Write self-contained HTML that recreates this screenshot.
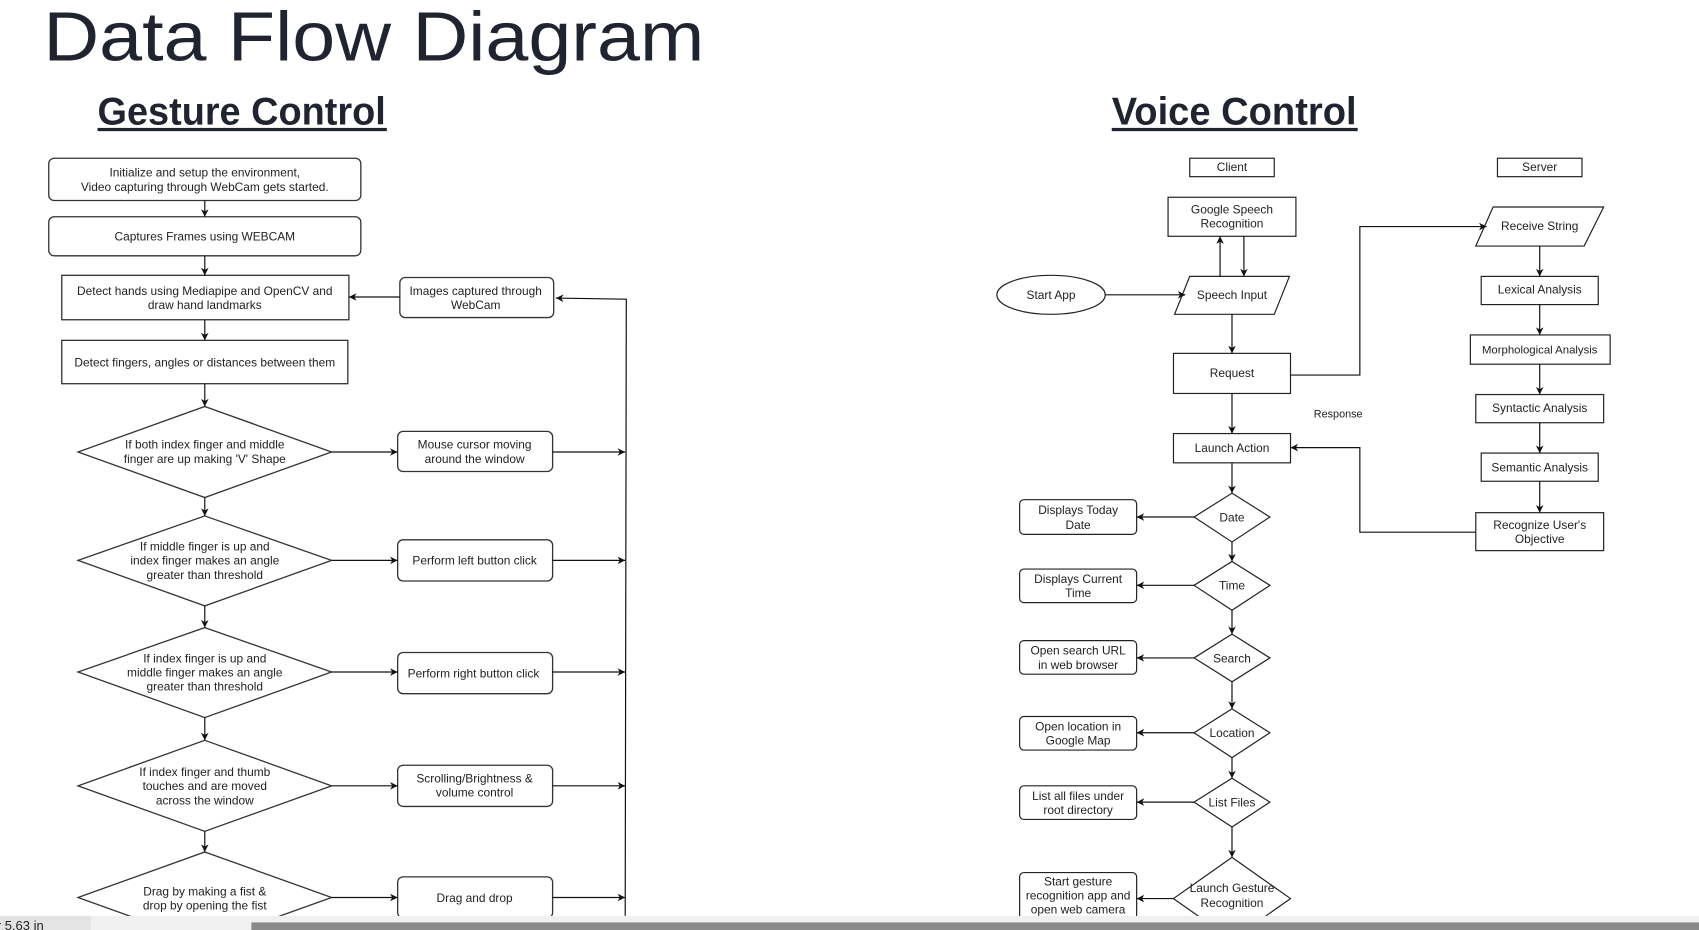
<!DOCTYPE html>
<html><head><meta charset="utf-8"><style>
html,body{margin:0;padding:0;background:#fff;overflow:hidden}
svg{display:block}
text{font-family:"Liberation Sans",Arial,sans-serif;fill:#222}
</style></head><body>
<svg width="1699" height="930" viewBox="0 0 1568 858" preserveAspectRatio="none" xmlns="http://www.w3.org/2000/svg">
<defs><marker id="a" markerWidth="8" markerHeight="8" refX="7" refY="4" orient="auto" markerUnits="userSpaceOnUse"><path d="M0,0.5 L7,4 L0,7.5 L2,4 z" fill="#111"/></marker></defs>
<rect width="1568" height="858" fill="#fff"/>
<text x="40" y="56" font-size="64" style="fill:#1f2430" textLength="610" lengthAdjust="spacingAndGlyphs">Data Flow Diagram</text>
<text x="90" y="115" font-size="36" font-weight="bold" style="fill:#1f2430" textLength="266" lengthAdjust="spacingAndGlyphs">Gesture Control</text>
<rect x="90" y="118" width="267" height="3" fill="#1f2430"/>
<text x="1026" y="115" font-size="36" font-weight="bold" style="fill:#1f2430" textLength="226" lengthAdjust="spacingAndGlyphs">Voice Control</text>
<rect x="1026" y="118" width="227" height="3" fill="#1f2430"/>

<g stroke="#333" stroke-width="1.2" fill="#fff">
<rect x="45" y="146" width="288" height="39" rx="5"/>
<rect x="45" y="200" width="288" height="36" rx="5"/>
<rect x="57" y="254" width="265" height="41"/>
<rect x="57" y="314" width="264" height="40"/>
<rect x="369" y="256" width="142" height="37" rx="5"/>
<polygon points="189,375 306,417 189,459 72,417"/>
<polygon points="189,476 306,517 189,559 72,517"/>
<polygon points="189,579 306,620 189,662 72,620"/>
<polygon points="189,683 306,725 189,767 72,725"/>
<polygon points="189,786 306,828 189,870 72,828"/>
<rect x="367" y="398" width="143" height="37" rx="5"/>
<rect x="367" y="498" width="143" height="38" rx="5"/>
<rect x="367" y="602" width="143" height="38" rx="5"/>
<rect x="367" y="706" width="143" height="38" rx="5"/>
<rect x="367" y="809" width="143" height="38" rx="5"/>
</g>
<g stroke="#111" stroke-width="1.1" fill="none" marker-end="url(#a)">
<line x1="189" y1="185" x2="189" y2="200"/>
<line x1="189" y1="236" x2="189" y2="254"/>
<line x1="189" y1="295" x2="189" y2="314"/>
<line x1="189" y1="354" x2="189" y2="375"/>
<line x1="189" y1="459" x2="189" y2="476"/>
<line x1="189" y1="559" x2="189" y2="579"/>
<line x1="189" y1="662" x2="189" y2="683"/>
<line x1="189" y1="767" x2="189" y2="786"/>
<line x1="369" y1="274" x2="322" y2="274"/>
<polyline points="577,845 578,276 513,275"/>
<line x1="306" y1="417" x2="367" y2="417"/>
<line x1="306" y1="517" x2="367" y2="517"/>
<line x1="306" y1="620" x2="367" y2="620"/>
<line x1="306" y1="725" x2="367" y2="725"/>
<line x1="306" y1="828" x2="367" y2="828"/>
<line x1="510" y1="417" x2="577" y2="417"/>
<line x1="510" y1="517" x2="577" y2="517"/>
<line x1="510" y1="620" x2="577" y2="620"/>
<line x1="510" y1="725" x2="577" y2="725"/>
<line x1="510" y1="828" x2="577" y2="828"/>
</g>
<g font-size="11" text-anchor="middle">
<text x="189" y="163">Initialize and setup the environment,</text>
<text x="189" y="176">Video capturing through WebCam gets started.</text>
<text x="189" y="222">Captures Frames using WEBCAM</text>
<text x="189" y="272">Detect hands using Mediapipe and OpenCV and</text>
<text x="189" y="285">draw hand landmarks</text>
<text x="189" y="338">Detect fingers, angles or distances between them</text>
<text x="439" y="272">Images captured through</text>
<text x="439" y="285">WebCam</text>
<text x="189" y="414">If both index finger and middle</text>
<text x="189" y="427">finger are up making 'V' Shape</text>
<text x="189" y="508">If middle finger is up and</text>
<text x="189" y="521">index finger makes an angle</text>
<text x="189" y="534">greater than threshold</text>
<text x="189" y="611">If index finger is up and</text>
<text x="189" y="624">middle finger makes an angle</text>
<text x="189" y="637">greater than threshold</text>
<text x="189" y="716">If index finger and thumb</text>
<text x="189" y="729">touches and are moved</text>
<text x="189" y="742">across the window</text>
<text x="189" y="826">Drag by making a fist &amp;</text>
<text x="189" y="839">drop by opening the fist</text>
<text x="438" y="414">Mouse cursor moving</text>
<text x="438" y="427">around the window</text>
<text x="438" y="521">Perform left button click</text>
<text x="437" y="625">Perform right button click</text>
<text x="438" y="722">Scrolling/Brightness &amp;</text>
<text x="438" y="735">volume control</text>
<text x="438" y="832">Drag and drop</text>
</g>

<g stroke="#222" stroke-width="1.1" fill="#fff">
<rect x="1098" y="146" width="78" height="17"/>
<rect x="1382" y="146" width="78" height="17"/>
<rect x="1078" y="182" width="118" height="36"/>
<polygon points="1098,255 1190,255 1176,290 1084,290"/>
<ellipse cx="970" cy="272" rx="50" ry="18"/>
<rect x="1083" y="326" width="108" height="37"/>
<rect x="1083" y="400" width="108" height="27"/>
<polygon points="1378,191 1480,191 1462,227 1362,227"/>
<rect x="1367" y="255" width="108" height="26"/>
<rect x="1357" y="309" width="129" height="27"/>
<rect x="1362" y="364" width="118" height="26"/>
<rect x="1367" y="418" width="108" height="26"/>
<rect x="1362" y="473" width="118" height="35"/>
<polygon points="1137,455 1172,477 1137,500 1102,477"/>
<polygon points="1137,518 1172,540 1137,563 1102,540"/>
<polygon points="1137,585 1172,607 1137,629 1102,607"/>
<polygon points="1137,654 1172,676 1137,699 1102,676"/>
<polygon points="1137,718 1172,740 1137,763 1102,740"/>
<polygon points="1137,791 1191,829 1137,867 1083,829"/>
<rect x="941" y="461" width="108" height="32" rx="4"/>
<rect x="941" y="525" width="108" height="31" rx="4"/>
<rect x="941" y="591" width="108" height="31" rx="4"/>
<rect x="941" y="661" width="108" height="31" rx="4"/>
<rect x="941" y="725" width="108" height="31" rx="4"/>
<rect x="941" y="805" width="108" height="45" rx="4"/>
</g>
<g stroke="#111" stroke-width="1.1" fill="none" marker-end="url(#a)">
<line x1="1126" y1="255" x2="1126" y2="218"/>
<line x1="1148" y1="218" x2="1148" y2="255"/>
<line x1="1020" y1="272" x2="1094" y2="272"/>
<line x1="1137" y1="290" x2="1137" y2="326"/>
<line x1="1137" y1="363" x2="1137" y2="400"/>
<line x1="1137" y1="427" x2="1137" y2="455"/>
<line x1="1137" y1="500" x2="1137" y2="518"/>
<line x1="1137" y1="563" x2="1137" y2="585"/>
<line x1="1137" y1="629" x2="1137" y2="654"/>
<line x1="1137" y1="699" x2="1137" y2="718"/>
<line x1="1137" y1="763" x2="1137" y2="791"/>
<polyline points="1191,346 1255,346 1255,209 1372,209"/>
<polyline points="1362,491 1255,491 1255,413 1191,413"/>
<line x1="1421" y1="227" x2="1421" y2="255"/>
<line x1="1421" y1="281" x2="1421" y2="309"/>
<line x1="1421" y1="336" x2="1421" y2="364"/>
<line x1="1421" y1="390" x2="1421" y2="418"/>
<line x1="1421" y1="444" x2="1421" y2="473"/>
<line x1="1102" y1="477" x2="1049" y2="477"/>
<line x1="1102" y1="540" x2="1049" y2="540"/>
<line x1="1102" y1="607" x2="1049" y2="607"/>
<line x1="1102" y1="676" x2="1049" y2="676"/>
<line x1="1102" y1="740" x2="1049" y2="740"/>
<line x1="1083" y1="829" x2="1049" y2="829"/>
</g>
<g font-size="11" text-anchor="middle">
<text x="1137" y="158">Client</text>
<text x="1421" y="158">Server</text>
<text x="1137" y="197">Google Speech</text>
<text x="1137" y="210">Recognition</text>
<text x="1137" y="276">Speech Input</text>
<text x="970" y="276">Start App</text>
<text x="1137" y="348">Request</text>
<text x="1137" y="417">Launch Action</text>
<text x="1235" y="385" font-size="10">Response</text>
<text x="1421" y="212">Receive String</text>
<text x="1421" y="271">Lexical Analysis</text>
<text x="1421" y="326" font-size="10.5">Morphological Analysis</text>
<text x="1421" y="380">Syntactic Analysis</text>
<text x="1421" y="435">Semantic Analysis</text>
<text x="1421" y="488">Recognize User's</text>
<text x="1421" y="501">Objective</text>
<text x="1137" y="481">Date</text>
<text x="1137" y="544">Time</text>
<text x="1137" y="611">Search</text>
<text x="1137" y="680">Location</text>
<text x="1137" y="744">List Files</text>
<text x="1137" y="823">Launch Gesture</text>
<text x="1137" y="837">Recognition</text>
<text x="995" y="474">Displays Today</text>
<text x="995" y="488">Date</text>
<text x="995" y="538">Displays Current</text>
<text x="995" y="551">Time</text>
<text x="995" y="604">Open search URL</text>
<text x="995" y="617">in web browser</text>
<text x="995" y="674">Open location in</text>
<text x="995" y="687">Google Map</text>
<text x="995" y="738">List all files under</text>
<text x="995" y="751">root directory</text>
<text x="995" y="817">Start gesture</text>
<text x="995" y="830">recognition app and</text>
<text x="995" y="843">open web camera</text>
</g>
<rect x="0" y="845" width="1568" height="13" fill="#f0f0f0"/>
<rect x="0" y="845" width="84" height="13" fill="#e4e4e4"/>
<text x="-3" y="858" font-size="12">r 5.63 in</text>
<rect x="232" y="851" width="1336" height="7" fill="#8a8a8a"/>
</svg>
</body></html>
